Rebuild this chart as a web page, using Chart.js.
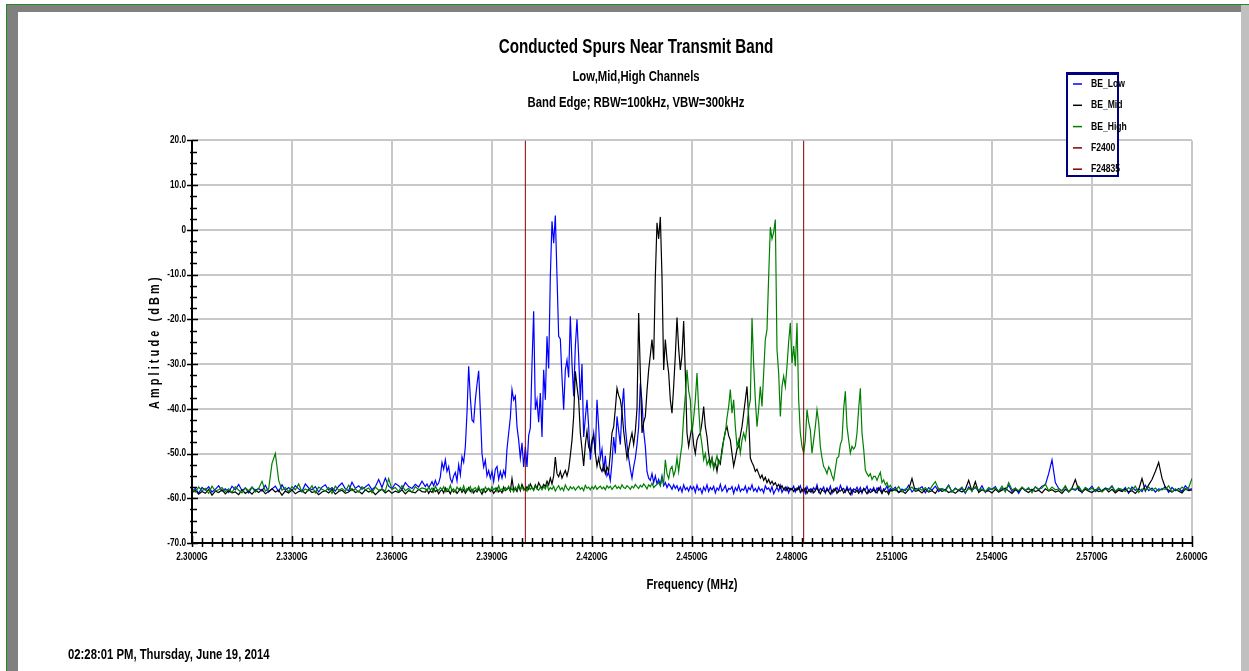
<!DOCTYPE html>
<html>
<head>
<meta charset="utf-8">
<script src="https://cdn.jsdelivr.net/npm/chart.js@4.4.1/dist/chart.umd.min.js"></script>
<style>
  html, body { margin: 0; padding: 0; background: #fff; }
  body { width: 1249px; height: 671px; position: relative; overflow: hidden; }
  .frame { position: absolute; }
  #chartBox { position: absolute; left: 18px; top: 12px; width: 1223px; height: 659px; }
  #stamp { position: absolute; left: 68px; top: 646px; font-weight: bold; font-size: 14.5px; color: #000;
           font-family: "Liberation Sans", Arial, sans-serif; white-space: nowrap;
           transform: scaleX(0.78); transform-origin: left top; }
</style>
</head>
<body>
<div class="frame" style="left:6px;top:4px;width:1243px;height:1px;background:#1e8c1e"></div>
<div class="frame" style="left:6px;top:4px;width:1px;height:667px;background:#1e8c1e"></div>
<div class="frame" style="left:7px;top:5px;width:1234px;height:7px;background:#808080"></div>
<div class="frame" style="left:7px;top:5px;width:11px;height:666px;background:#808080"></div>
<div class="frame" style="left:1241px;top:5px;width:8px;height:666px;background:#c0c0c0"></div>
<div id="chartBox"><canvas id="spurs" width="1223" height="659"></canvas></div>
<div id="stamp">02:28:01 PM, Thursday, June 19, 2014</div>
<script>
var FONT = '"Liberation Sans", Arial, sans-serif';
var SQUEEZE = 0.78; // the original uses a narrow face, so squeeze text horizontally

// frequency grid (MHz): 1 MHz steps on the flat parts, 0.5 MHz across the spur region
var freqMHz = [];
for (var f = 2300; f < 2370; f += 1) freqMHz.push(f);
for (var f2 = 2370; f2 < 2510; f2 += 0.5) freqMHz.push(f2);
for (var f3 = 2510; f3 <= 2600; f3 += 1) freqMHz.push(f3);

var seriesNames = ['BE_Low', 'BE_Mid', 'BE_High'];
var seriesColors = ['#0000ff', '#000000', '#008000'];

var markerNames = ['F2400', 'F24835'];
var markerFreqs = [2400, 2483.5];
var markerColor = '#800000';

var ampMin = -70, ampMax = 20;

// BE_Low (dBm)
var beLow = [
  // 2300 - 2369, 1 MHz
  -58.5, -57.8, -58.9, -57.6, -58.2, -57.4, -58.6, -58.0, -57.2, -58.4,
  -57.9, -58.7, -57.3, -58.1, -56.9, -58.3, -57.7, -58.8, -57.5, -58.2,
  -57.8, -58.4, -57.1, -58.6, -57.9, -57.3, -58.5, -57.0, -58.2, -57.6,
  -58.3, -57.2, -57.9, -58.5, -56.8, -57.7, -58.1, -57.4, -58.6, -57.5,
  -57.0, -58.2, -57.6, -58.4, -57.3, -56.6, -57.9, -58.3, -56.4, -57.8,
  -57.2, -58.0, -57.5, -56.9, -58.1, -57.4, -55.8, -57.6, -55.5, -57.3,
  -57.9, -56.7, -57.2, -58.0, -56.5, -57.4, -57.8, -56.9, -57.5, -56.2,
  // 2370 - 2509.5, 0.5 MHz
  -57.4, -56.8, -57.6, -57.0, -56.3, -57.2, -56.0, -57.1, -56.6, -55.2,
  -52.0, -53.5, -51.4, -54.0, -52.9, -55.6, -56.5, -55.0, -54.2, -56.1,
  -52.5, -54.8, -50.7, -52.0, -48.5, -40.9, -30.5, -37.5, -42.5, -43.0,
  -38.0, -34.5, -31.5, -40.5, -50.0, -53.0, -51.5, -55.0, -53.8, -55.5,
  -54.0, -56.3, -53.5, -52.9, -55.8, -54.0, -55.5, -53.8, -55.0, -49.0,
  -45.4, -42.0, -35.7, -38.0, -37.2, -44.0, -47.0, -51.0, -47.6, -53.0,
  -48.5, -53.0, -46.0, -44.3, -30.0, -18.2, -40.2, -38.0, -43.0, -36.5,
  -46.3, -31.3, -38.0, -23.8, -31.0, -10.4, 1.9, -3.0, 3.2, -10.4,
  -23.8, -24.4, -33.0, -40.2, -31.3, -29.1, -33.0, -19.3, -30.0, -37.2,
  -26.0, -20.0, -28.3, -38.0, -30.0, -46.3, -42.0, -38.0, -44.0, -51.4,
  -48.0, -45.4, -50.0, -38.0, -44.0, -51.0, -49.0, -54.0, -50.5, -55.0,
  -54.2, -56.0, -52.0, -46.3, -50.0, -41.7, -45.0, -48.0, -40.0, -35.4,
  -44.0, -48.0, -51.0, -53.5, -55.5, -53.0, -51.0, -48.0, -44.0, -34.3,
  -38.5, -45.0, -48.4, -54.0, -55.5, -56.0, -54.5, -56.5, -55.0, -56.8,
  -55.8, -57.0, -55.0, -57.2, -56.5, -57.6, -56.8, -57.3, -58.0, -57.0,
  -57.8, -57.2, -58.3, -57.5, -58.6, -57.0, -58.1, -57.6, -58.4, -57.3,
  -58.0, -57.4, -58.7, -57.1, -58.2, -57.8, -58.9, -57.5, -58.3, -57.0,
  -58.5, -57.6, -58.1, -57.3, -58.8, -57.7, -58.2, -56.9, -58.4, -57.9,
  -57.2, -58.6, -57.8, -58.0, -57.4, -58.9, -57.6, -58.3, -57.1, -58.5,
  -57.9, -58.2, -57.3, -58.7, -57.6, -58.1, -57.0, -58.4, -57.8, -58.6,
  -57.5, -58.3, -57.9, -58.8, -57.2, -58.0, -57.7, -58.5, -57.4, -59.0,
  -58.2, -57.6, -58.4, -57.1, -58.7, -57.9, -58.3, -57.5, -58.8, -57.8,
  -58.1, -57.3, -58.6, -57.7, -58.0, -57.2, -58.5, -57.8, -58.9, -57.4,
  -58.3, -57.9, -58.7, -57.6, -58.2, -57.0, -58.6, -57.8, -58.1, -57.5,
  -58.8, -57.7, -58.4, -57.3, -58.9, -57.9, -58.2, -57.6, -58.5, -57.1,
  -58.0, -57.8, -58.6, -57.4, -58.3, -57.7, -59.1, -57.9, -58.2, -57.5,
  -58.4, -57.6, -58.9, -57.8, -58.1, -57.3, -58.7, -57.9, -58.3, -57.6,
  -58.6, -57.7, -58.2, -57.4, -58.8, -57.9, -58.0, -57.2, -58.5, -57.8,
  // 2510 - 2600, 1 MHz
  -58.2, -57.5, -58.7, -57.9, -58.3, -57.1, -58.6, -57.8, -58.0, -57.4,
  -58.8, -57.6, -58.2, -57.3, -58.5, -57.9, -58.1, -57.0, -58.6, -57.7,
  -58.3, -57.8, -58.9, -57.5, -58.2, -57.6, -58.4, -57.2, -58.7, -57.9,
  -58.0, -57.4, -58.6, -57.8, -58.3, -57.1, -58.5, -57.7, -58.9, -57.6,
  -58.2, -57.9, -58.4, -57.5, -58.1, -57.3, -57.0, -54.5, -51.4, -56.5,
  -57.8, -58.3, -57.4, -58.6, -57.9, -58.2, -57.5, -58.8, -57.6, -58.1,
  -57.3, -58.5, -57.9, -58.3, -57.7, -58.0, -57.2, -58.6, -57.8, -58.4,
  -57.6, -58.9, -57.5, -58.2, -57.9, -58.5, -57.1, -58.3, -57.7, -58.6,
  -57.9, -58.1, -57.4, -58.7, -57.6, -58.3, -57.8, -58.5, -57.2, -58.0,
  -57.9
];

// BE_Mid (dBm)
var beMid = [
  -58.8, -58.2, -59.1, -58.5, -58.9, -58.0, -59.3, -58.4, -58.7, -58.1,
  -59.0, -58.3, -58.8, -58.6, -59.2, -58.1, -58.9, -58.4, -59.1, -58.2,
  -58.7, -58.0, -59.0, -58.5, -57.9, -58.6, -58.2, -59.3, -58.4, -58.8,
  -58.1, -59.0, -58.5, -58.3, -58.9, -58.0, -58.7, -58.4, -59.2, -58.6,
  -58.3, -58.8, -58.0, -59.1, -58.5, -58.2, -58.9, -58.6, -57.9, -58.7,
  -58.4, -59.0, -58.1, -58.6, -58.3, -59.2, -58.5, -58.0, -58.8, -58.2,
  -58.9, -58.4, -58.7, -58.1, -59.0, -58.3, -58.6, -58.8, -58.0, -58.5,
  // 2370 - 2509.5
  -58.6, -58.0, -58.9, -58.3, -58.7, -57.9, -58.5, -58.2, -59.0, -58.4,
  -58.1, -58.8, -57.7, -58.5, -58.3, -59.0, -58.0, -58.6, -58.2, -58.9,
  -58.4, -57.8, -58.7, -58.1, -58.9, -58.3, -57.6, -58.5, -58.0, -58.8,
  -58.2, -58.6, -57.9, -58.4, -59.1, -58.0, -58.7, -58.3, -57.8, -58.5,
  -58.1, -58.9, -58.4, -57.7, -58.6, -58.2, -58.8, -57.5, -58.3, -58.0,
  -57.6, -58.4, -55.6, -58.1, -57.9, -58.5, -57.2, -58.3, -56.9, -57.8,
  -58.2, -57.4, -58.0, -56.8, -57.6, -58.1, -57.0, -57.8, -56.5, -57.3,
  -57.7, -56.9, -57.4, -56.2, -57.0, -55.5, -56.8, -55.0, -50.8, -54.5,
  -55.2, -54.0, -55.5, -54.6, -53.8, -55.0, -53.5, -50.4, -47.0, -41.7,
  -31.6, -35.0, -38.0, -45.4, -49.0, -52.8, -48.0, -45.0, -48.5, -49.5,
  -47.0, -46.0, -50.0, -52.8, -51.0, -53.2, -54.0, -52.6, -54.5, -53.0,
  -54.0, -50.0, -45.4, -44.0, -40.0, -35.4, -37.0, -38.0, -40.5, -45.0,
  -48.0, -51.0, -49.0, -47.0, -45.4, -48.0, -45.0, -40.0, -18.6, -32.0,
  -45.4, -43.0, -41.7, -36.0, -31.3, -28.0, -24.5, -29.0, -10.4, 1.6,
  -2.0, 2.9, -10.4, -31.3, -24.5, -29.0, -32.0, -38.0, -41.0, -35.0,
  -28.0, -19.6, -26.5, -31.3, -28.0, -20.4, -32.0, -45.4, -48.4, -46.0,
  -44.0, -48.0, -50.0, -47.0, -46.0, -45.4, -43.0, -39.5, -44.0, -46.3,
  -50.0, -52.3, -51.0, -53.0, -52.0, -54.0, -51.5, -52.3, -49.0, -47.0,
  -45.0, -44.0, -46.0, -47.0, -50.0, -52.8, -51.0, -49.0, -48.4, -46.0,
  -44.0, -41.0, -38.0, -35.0, -42.0, -51.0, -52.0, -52.8, -54.0, -53.5,
  -54.5, -55.5, -54.8, -56.0, -55.3, -56.5, -55.8, -56.8, -56.2, -57.0,
  -56.5, -57.4, -56.9, -57.8, -57.2, -58.0, -57.5, -58.3, -57.6, -58.1,
  -57.8, -58.5, -57.9, -58.2, -57.4, -58.7, -58.0, -58.4, -57.7, -58.9,
  -58.2, -58.6, -57.9, -58.8, -58.3, -57.6, -58.5, -59.0, -58.1, -58.4,
  -58.7, -58.0, -58.5, -59.1, -58.2, -58.6, -57.8, -58.9, -58.3, -58.4,
  -58.0, -58.8, -58.4, -57.9, -58.6, -59.2, -58.1, -58.5, -58.7, -58.2,
  -58.9, -58.3, -58.6, -57.8, -58.4, -59.0, -58.2, -58.7, -58.5, -58.1,
  -58.5, -58.8, -57.7, -58.3, -58.9, -58.0, -58.6, -58.4, -59.1, -58.2,
  // 2510 - 2600
  -58.4, -58.0, -58.7, -58.3, -58.9, -58.1, -55.6, -58.5, -58.2, -58.8,
  -58.0, -58.6, -58.3, -58.9, -57.8, -58.5, -58.1, -58.7, -58.4, -58.9,
  -58.2, -58.6, -58.0, -56.0, -58.4, -56.3, -58.7, -58.1, -58.5, -58.3,
  -58.8, -58.0, -58.6, -58.2, -57.7, -58.4, -58.9, -58.1, -58.5, -57.6,
  -58.3, -58.7, -58.0, -58.5, -58.2, -58.8, -57.9, -58.4, -58.1, -58.6,
  -58.3, -58.9, -58.0, -58.5, -57.7, -55.8, -58.2, -58.6, -58.0, -58.4,
  -58.7, -58.1, -58.5, -58.3, -57.8, -58.6, -58.0, -58.8, -58.2, -58.5,
  -58.0, -58.6, -58.3, -58.9, -58.1, -55.6, -58.4, -57.0, -55.8, -54.0,
  -52.0, -55.5, -57.6, -58.2, -58.6, -58.0, -58.4, -58.8, -57.9, -58.3,
  -58.1
];

// BE_High (dBm)
var beHigh = [
  -58.0, -58.6, -57.5, -58.3, -57.8, -58.9, -57.3, -58.4, -58.1, -57.6,
  -58.5, -57.9, -58.7, -57.4, -58.2, -58.8, -57.7, -58.3, -57.5, -58.6,
  -57.8, -56.2, -58.4, -57.9, -52.2, -50.0, -56.0, -58.2, -57.6, -58.5,
  -57.4, -58.1, -56.8, -58.6, -57.9, -58.3, -57.2, -58.8, -57.5, -58.0,
  -58.4, -57.6, -58.9, -57.3, -58.2, -57.8, -58.5, -57.1, -58.3, -57.9,
  -58.6, -57.4, -58.1, -57.7, -58.8, -57.5, -58.2, -57.9, -58.4, -55.6,
  -58.0, -57.6, -58.5, -57.2, -58.3, -57.8, -58.7, -57.4, -58.1, -57.7,
  // 2370 - 2509.5
  -57.9, -58.4, -57.5, -58.2, -57.7, -58.6, -57.3, -58.0, -58.3, -57.6,
  -58.1, -57.4, -58.5, -57.8, -58.2, -57.1, -58.4, -57.9, -58.6, -57.5,
  -58.0, -57.7, -58.3, -57.2, -58.5, -57.8, -58.1, -57.4, -58.7, -57.9,
  -57.6, -58.2, -57.3, -58.4, -57.9, -58.6, -57.5, -58.0, -57.8, -58.3,
  -57.4, -58.1, -57.7, -58.5, -57.2, -58.2, -57.9, -58.4, -57.6, -58.0,
  -57.3, -58.3, -57.8, -58.6, -57.5, -58.1, -56.9, -58.0, -57.4, -58.2,
  -57.7, -58.4, -57.1, -58.0, -57.6, -58.3, -57.3, -57.9, -58.2, -57.5,
  -58.1, -57.4, -57.9, -56.8, -58.2, -57.6, -58.0, -57.3, -58.4, -57.7,
  -57.2, -58.1, -57.6, -58.3, -57.0, -57.8, -58.2, -57.4, -57.9, -57.5,
  -58.2, -57.7, -57.3, -58.0, -57.6, -58.3, -57.1, -57.8, -57.5, -58.1,
  -57.4, -57.9, -57.2, -58.0, -57.6, -57.3, -57.9, -57.5, -58.1, -57.2,
  -57.7, -57.3, -58.0, -57.5, -57.1, -57.8, -57.4, -57.9, -57.0, -57.6,
  -57.8, -57.2, -57.5, -58.0, -57.3, -57.7, -56.9, -57.4, -57.8, -57.1,
  -57.5, -56.8, -57.3, -57.9, -57.0, -57.4, -56.6, -57.6, -57.2, -56.9,
  -56.5, -57.3, -55.5, -56.6, -51.4, -54.5, -55.6, -53.5, -52.9, -55.0,
  -53.8, -51.0, -54.0, -50.7, -48.0, -41.7, -37.0, -31.3, -36.0, -38.0,
  -45.4, -42.0, -38.0, -32.0, -40.0, -45.4, -48.0, -51.4, -50.0, -52.5,
  -51.5, -52.9, -51.0, -53.5, -52.0, -50.5, -52.5, -51.4, -50.0, -47.0,
  -45.4, -42.0, -39.5, -35.7, -41.0, -38.0, -44.0, -48.4, -47.0, -49.9,
  -47.0, -45.4, -46.9, -44.0, -40.0, -38.0, -19.7, -30.0, -38.0, -44.0,
  -40.0, -35.0, -39.5, -32.0, -24.5, -22.3, -10.4, 0.6, -2.0, -0.5,
  2.3, -26.8, -32.0, -41.7, -35.0, -32.7, -35.0, -30.5, -25.0, -20.8,
  -29.8, -26.0, -30.5, -20.8, -38.0, -45.4, -48.4, -49.9, -47.0, -40.2,
  -43.0, -44.7, -49.9, -47.0, -44.0, -40.2, -43.0, -48.4, -51.0, -52.9,
  -53.5, -54.5, -53.0, -53.7, -55.0, -55.9, -53.5, -51.0, -50.7, -48.0,
  -46.9, -40.0, -36.1, -44.0, -47.0, -49.9, -48.4, -49.0, -48.4, -45.4,
  -40.0, -35.4, -45.4, -49.0, -53.7, -54.5, -55.1, -54.5, -55.8, -55.1,
  -55.1, -56.0, -55.0, -54.2, -56.5, -55.9, -57.0, -56.5, -57.6, -57.1,
  // 2510 - 2600
  -57.8, -58.3, -57.4, -58.6, -57.9, -58.1, -57.5, -58.4, -57.7, -58.2,
  -57.6, -58.5, -57.3, -56.3, -58.0, -57.8, -58.4, -57.2, -58.6, -57.9,
  -58.1, -57.5, -58.7, -57.8, -58.3, -57.4, -58.2, -57.9, -58.5, -57.6,
  -58.0, -57.7, -58.4, -57.3, -58.6, -56.5, -58.1, -57.8, -58.3, -57.5,
  -58.2, -57.6, -58.8, -57.4, -58.0, -57.7, -56.8, -58.3, -57.5, -58.1,
  -57.9, -58.4, -57.2, -58.6, -57.8, -58.0, -57.3, -58.5, -57.6, -58.2,
  -57.7, -58.3, -57.5, -58.6, -57.9, -58.1, -57.4, -58.4, -57.8, -58.0,
  -58.5, -57.6, -58.2, -57.3, -58.7, -57.9, -58.1, -57.5, -58.3, -57.7,
  -58.4, -57.8, -58.0, -57.2, -58.6, -57.9, -58.3, -57.5, -58.1, -57.6,
  -55.6
];

function toPoints(values) {
  return freqMHz.map(function (f, i) { return { x: f, y: values[i] }; });
}

var traces = [beLow, beMid, beHigh];
var datasets = traces.map(function (vals, i) {
  return {
    label: seriesNames[i],
    data: toPoints(vals),
    borderColor: seriesColors[i],
    backgroundColor: seriesColors[i],
    borderWidth: 1.2,
    pointRadius: 0,
    tension: 0,
    fill: false,
    order: 3 - i
  };
});
markerFreqs.forEach(function (mf, i) {
  datasets.push({
    label: markerNames[i],
    data: [{ x: mf, y: ampMin }, { x: mf, y: ampMax }],
    borderColor: markerColor,
    backgroundColor: markerColor,
    borderWidth: 1,
    pointRadius: 0,
    fill: false,
    order: 0
  });
});

// narrow lettering: every fillText on this chart is squeezed around its anchor
var narrowText = {
  id: 'narrowText',
  beforeInit: function (chart) {
    var ctx = chart.ctx;
    var orig = ctx.fillText;
    ctx.fillText = function (text, x, y) {
      ctx.save();
      ctx.translate(x, y);
      ctx.scale(SQUEEZE, 1);
      orig.call(ctx, text, 0, 0);
      ctx.restore();
    };
  }
};

// axis lines with crossing major/minor ticks, rotated y title, boxed legend
var decor = {
  id: 'decor',
  afterDraw: function (chart) {
    var ctx = chart.ctx, a = chart.chartArea;
    var xs = chart.scales.x, ys = chart.scales.y;
    ctx.save();
    ctx.strokeStyle = '#000';
    ctx.lineWidth = 2;
    ctx.beginPath();
    ctx.moveTo(a.left, a.top); ctx.lineTo(a.left, a.bottom + 1);
    ctx.moveTo(a.left - 1, a.bottom); ctx.lineTo(a.right, a.bottom);
    ctx.stroke();

    ctx.lineWidth = 1.5;
    ctx.beginPath();
    for (var k = 0; k <= 36; k++) {
      var v = ampMin + k * 2.5;
      var py = Math.round(ys.getPixelForValue(v)) + 0.5;
      if (k % 4 === 0) { ctx.moveTo(a.left - 5, py); ctx.lineTo(a.left + 6, py); }
      else { ctx.moveTo(a.left - 2, py); ctx.lineTo(a.left + 5, py); }
    }
    for (var j = 0; j <= 100; j++) {
      var fx = 2300 + j * 3;
      var px = Math.round(xs.getPixelForValue(fx)) + 0.5;
      if (j % 10 === 0) { ctx.moveTo(px, a.bottom - 7); ctx.lineTo(px, a.bottom + 4); }
      else { ctx.moveTo(px, a.bottom - 5); ctx.lineTo(px, a.bottom + 4); }
    }
    ctx.stroke();

    // y axis title
    ctx.save();
    ctx.translate(137, (a.top + a.bottom) / 2);
    ctx.rotate(-Math.PI / 2);
    ctx.font = 'bold 14px ' + FONT;
    if ('letterSpacing' in ctx) ctx.letterSpacing = '4px';
    ctx.fillStyle = '#000';
    ctx.textAlign = 'center';
    ctx.textBaseline = 'middle';
    ctx.fillText('Amplitude (dBm)', 0, 0);
    ctx.restore();

    // legend box
    var bx = 1048, by = 60, bw = 53, bh = 105;
    ctx.fillStyle = '#fff';
    ctx.fillRect(bx, by, bw, bh);
    ctx.strokeStyle = '#000080';
    ctx.lineWidth = 2;
    ctx.strokeRect(bx + 1, by + 1, bw - 2, bh - 2);
    ctx.fillStyle = '#000080';
    ctx.fillRect(bx, by, bw, 3);
    ctx.font = 'bold 11px ' + FONT;
    ctx.textBaseline = 'middle';
    ctx.textAlign = 'left';
    chart.data.datasets.forEach(function (ds, i) {
      var ly = by + 12 + i * 21.3;
      ctx.strokeStyle = ds.borderColor;
      ctx.lineWidth = 1.5;
      ctx.beginPath();
      ctx.moveTo(bx + 7, ly); ctx.lineTo(bx + 16, ly);
      ctx.stroke();
      ctx.fillStyle = '#000';
      ctx.fillText(ds.label, bx + 25, ly);
    });
    ctx.restore();
  }
};

new Chart(document.getElementById('spurs'), {
  type: 'line',
  data: { datasets: datasets },
  plugins: [narrowText, decor],
  options: {
    responsive: false,
    animation: false,
    devicePixelRatio: 1,
    layout: { padding: { left: 62, right: 49, top: 0, bottom: 77 } },
    plugins: {
      legend: { display: false },
      tooltip: { enabled: false },
      title: {
        display: true,
        text: 'Conducted Spurs Near Transmit Band',
        color: '#000',
        font: { family: FONT, size: 19.5, weight: 'bold' },
        padding: { top: 24, bottom: 5 }
      },
      subtitle: {
        display: true,
        text: ['Low,Mid,High Channels', 'Band Edge; RBW=100kHz, VBW=300kHz'],
        color: '#000',
        font: { family: FONT, size: 14.5, weight: 'bold', lineHeight: '26px' },
        padding: { top: 0, bottom: 24 }
      }
    },
    scales: {
      x: {
        type: 'linear',
        min: 2300,
        max: 2600,
        afterFit: function (s) { s.height = 51; },
        border: { display: false },
        grid: { color: '#c8c8c8', lineWidth: 2, drawTicks: false },
        ticks: {
          stepSize: 30,
          autoSkip: false,
          maxRotation: 0,
          padding: 8,
          color: '#000',
          font: { family: FONT, size: 10.5, weight: 'bold' },
          callback: function (v) { return (v / 1000).toFixed(4) + 'G'; }
        },
        title: {
          display: true,
          text: 'Frequency (MHz)',
          color: '#000',
          padding: 0,
          font: { family: FONT, size: 14.5, weight: 'bold' }
        }
      },
      y: {
        min: ampMin,
        max: ampMax,
        afterFit: function (s) { s.width = 112; },
        border: { display: false },
        grid: { color: '#c8c8c8', lineWidth: 2, drawTicks: false },
        ticks: {
          stepSize: 10,
          padding: 6,
          color: '#000',
          font: { family: FONT, size: 10.5, weight: 'bold' },
          callback: function (v) { return v === 0 ? '0' : v.toFixed(1); }
        }
      }
    }
  }
});
</script>
</body>
</html>
